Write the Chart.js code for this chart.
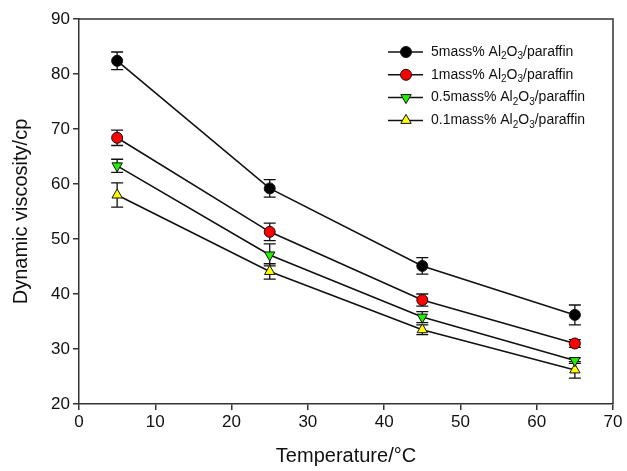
<!DOCTYPE html>
<html>
<head>
<meta charset="utf-8">
<script src="https://cdn.jsdelivr.net/npm/chart.js@4.4.0/dist/chart.umd.min.js"></script>
<style>
html,body{margin:0;padding:0;background:#fff;}
#wrap{width:627px;height:471px;position:relative;}
</style>
</head>
<body>
<div id="wrap"><canvas id="c" width="627" height="471"></canvas></div>
<script>
const temperatures = [5, 25, 45, 65];
const xTicks = [0, 10, 20, 30, 40, 50, 60, 70];
const yTicks = [20, 30, 40, 50, 60, 70, 80, 90];

const visc5 = [82.4, 59.2, 45.1, 36.2];
const err5  = [1.6, 1.6, 1.5, 1.8];
const visc1 = [68.4, 51.3, 38.9, 31.0];
const err1  = [1.4, 1.6, 1.1, 0.7];
const visc05 = [63.3, 47.1, 35.8, 27.9];
const err05  = [1.2, 2.0, 1.0, 0.5];
const visc01 = [58.0, 44.1, 33.5, 26.2];
const err01  = [2.2, 1.4, 0.9, 1.5];

const seriesLabels = [
  ["5mass% Al", "2", "O", "3", "/paraffin"],
  ["1mass% Al", "2", "O", "3", "/paraffin"],
  ["0.5mass% Al", "2", "O", "3", "/paraffin"],
  ["0.1mass% Al", "2", "O", "3", "/paraffin"]
];

const FONT = "'Liberation Sans', Arial, sans-serif";

function pts(vals){ return temperatures.map((t,i)=>({x:t, y:vals[i]})); }

const styles = [
  {fill:'#000000', shape:'circle', rot:0, r:5.5},
  {fill:'#ff0000', shape:'circle', rot:0, r:5.5},
  {fill:'#22ee00', shape:'triangle', rot:180, r:6},
  {fill:'#ffff00', shape:'triangle', rot:0, r:6}
];
const allVals = [visc5, visc1, visc05, visc01];
const allErr = [err5, err1, err05, err01];

const datasets = allVals.map((v,i)=>({
  label: seriesLabels[i].join(''),
  data: pts(v),
  errors: allErr[i],
  showLine: true,
  borderColor: '#111',
  borderWidth: 1.6,
  pointStyle: styles[i].shape,
  rotation: styles[i].rot,
  pointRadius: styles[i].r,
  pointHoverRadius: styles[i].r,
  pointBackgroundColor: styles[i].fill,
  pointBorderColor: '#111',
  pointBorderWidth: 1,
  tension: 0
}));

function drawMarker(ctx, st, x, y){
  ctx.save();
  ctx.fillStyle = st.fill; ctx.strokeStyle = '#111'; ctx.lineWidth = 1;
  ctx.beginPath();
  if (st.shape === 'circle') {
    ctx.arc(x, y, st.r, 0, Math.PI*2);
  } else {
    const r = st.r;
    const a0 = (st.rot * Math.PI/180) - Math.PI/2;
    for (let k=0;k<3;k++){
      const a = a0 + k*2*Math.PI/3;
      const px = x + Math.cos(a)*r, py = y + Math.sin(a)*r;
      if(k===0) ctx.moveTo(px,py); else ctx.lineTo(px,py);
    }
    ctx.closePath();
  }
  ctx.fill(); ctx.stroke();
  ctx.restore();
}

const errorBars = {
  id: 'errorBars',
  beforeDatasetsDraw(chart){
    const ctx = chart.ctx;
    const xs = chart.scales.x, ys = chart.scales.y;
    ctx.save();
    ctx.strokeStyle = '#111';
    ctx.lineWidth = 1.3;
    chart.data.datasets.forEach(ds=>{
      ds.data.forEach((p,i)=>{
        const e = ds.errors[i];
        const px = xs.getPixelForValue(p.x);
        const top = ys.getPixelForValue(p.y + e);
        const bot = ys.getPixelForValue(p.y - e);
        ctx.beginPath();
        ctx.moveTo(px, top); ctx.lineTo(px, bot);
        ctx.moveTo(px-6, top); ctx.lineTo(px+6, top);
        ctx.moveTo(px-6, bot); ctx.lineTo(px+6, bot);
        ctx.stroke();
      });
    });
    ctx.restore();
  }
};

const frame = {
  id: 'frame',
  afterDraw(chart){
    const {ctx, chartArea:a} = chart;
    ctx.save();
    ctx.strokeStyle = '#333';
    ctx.lineWidth = 1.5;
    ctx.beginPath();
    ctx.moveTo(a.left, a.top); ctx.lineTo(a.right, a.top); ctx.lineTo(a.right, a.bottom);
    ctx.stroke();
    ctx.restore();
  }
};

const legendPlugin = {
  id: 'customLegend',
  afterDraw(chart){
    const ctx = chart.ctx;
    const x0 = 388, x1 = 423, mx = 406, tx = 431;
    const y0 = 52, dy = 22.8;
    ctx.save();
    seriesLabels.forEach((parts,i)=>{
      const y = y0 + i*dy;
      ctx.strokeStyle = '#111'; ctx.lineWidth = 1.5;
      ctx.beginPath(); ctx.moveTo(x0,y); ctx.lineTo(x1,y); ctx.stroke();
      drawMarker(ctx, styles[i], mx, y);
      let x = tx;
      ctx.fillStyle = '#111';
      ctx.textBaseline = 'middle';
      ctx.textAlign = 'left';
      parts.forEach((s,k)=>{
        const sub = (k % 2 === 1);
        ctx.font = (sub ? '10px ' : '14px ') + FONT;
        ctx.fillText(s, x, sub ? y + 4.5 : y);
        x += ctx.measureText(s).width;
      });
    });
    ctx.restore();
  }
};

new Chart(document.getElementById('c'), {
  type: 'scatter',
  data: { datasets },
  plugins: [errorBars, frame, legendPlugin],
  options: {
    responsive: false,
    animation: false,
    devicePixelRatio: 1,
    layout: { padding: { left: 0, top: 19, right: 14, bottom: 0 } },
    plugins: { legend: { display: false }, tooltip: { enabled: false } },
    scales: {
      x: {
        type: 'linear', min: 0, max: 70,
        afterBuildTicks(s){ s.ticks = xTicks.map(v=>({value:v})); },
        afterFit(s){ s.height = 67; },
        ticks: { font: { family: FONT, size: 17 }, color: '#111', padding: 2 },
        grid: { drawOnChartArea: false, drawTicks: true, tickLength: 6, color: '#333', lineWidth: 1.5 },
        border: { display: true, color: '#333', width: 1.5 },
        title: { display: true, text: 'Temperature/°C', font: { family: FONT, size: 20 }, color: '#111', padding: { top: 0, bottom: 3 } }
      },
      y: {
        type: 'linear', min: 20, max: 90,
        afterBuildTicks(s){ s.ticks = yTicks.map(v=>({value:v})); },
        afterFit(s){ s.width = 79; },
        ticks: { font: { family: FONT, size: 17 }, color: '#111', padding: 3 },
        grid: { drawOnChartArea: false, drawTicks: true, tickLength: 6, color: '#333', lineWidth: 1.5 },
        border: { display: true, color: '#333', width: 1.5 },
        title: { display: true, text: 'Dynamic viscosity/cp', font: { family: FONT, size: 20 }, color: '#111', padding: { top: 9, bottom: 0 } }
      }
    }
  }
});
</script>
</body>
</html>
